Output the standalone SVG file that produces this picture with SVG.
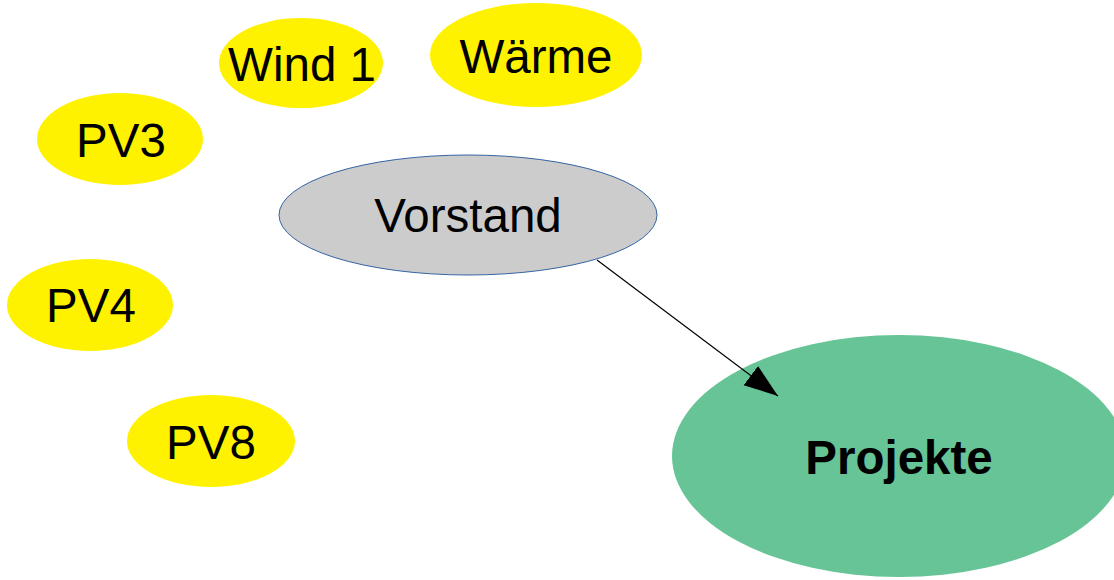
<svg xmlns="http://www.w3.org/2000/svg" width="1114" height="580" viewBox="0 0 1114 580">
<style>
.y{fill:#fff200;stroke:none}
.t{font-family:"Liberation Sans",Arial,sans-serif;font-size:47.5px;fill:#000;text-anchor:middle}
.b{font-weight:bold}
</style>
<defs>
<marker id="ah" markerUnits="userSpaceOnUse" markerWidth="40" markerHeight="40" refX="34" refY="12" orient="auto" viewBox="0 0 40 24">
<path d="M0,0 L34,12 L0,24 Z" fill="#000"/>
</marker>
</defs>
<rect width="1114" height="580" fill="#fff"/>
<g id="node-waerme"><ellipse class="y" cx="536" cy="55" rx="106" ry="52"/><text class="t" x="536" y="73">Wärme</text></g>
<g id="node-wind1"><ellipse class="y" cx="301" cy="63" rx="82" ry="45"/><text class="t" x="302" y="81">Wind 1</text></g>
<g id="node-pv3"><ellipse class="y" cx="120" cy="139" rx="83" ry="46"/><text class="t" x="121" y="157">PV3</text></g>
<g id="node-pv4"><ellipse class="y" cx="90" cy="305" rx="83" ry="46"/><text class="t" x="91" y="322">PV4</text></g>
<g id="node-pv8"><ellipse class="y" cx="211" cy="441" rx="84" ry="46"/><text class="t" x="211" y="459">PV8</text></g>
<g id="node-vorstand"><ellipse cx="468" cy="215" rx="189" ry="60" fill="#cccccc" stroke="#3465a4" stroke-width="1"/><text class="t" x="468" y="232">Vorstand</text></g>
<g id="node-projekte"><ellipse cx="899" cy="456" rx="227" ry="121" fill="#66c497"/><text class="t b" x="899" y="474">Projekte</text></g>
<g id="connectors">
<line x1="597" y1="260" x2="778" y2="396" stroke="#000" stroke-width="1.2" marker-end="url(#ah)"/>
</g>
</svg>
